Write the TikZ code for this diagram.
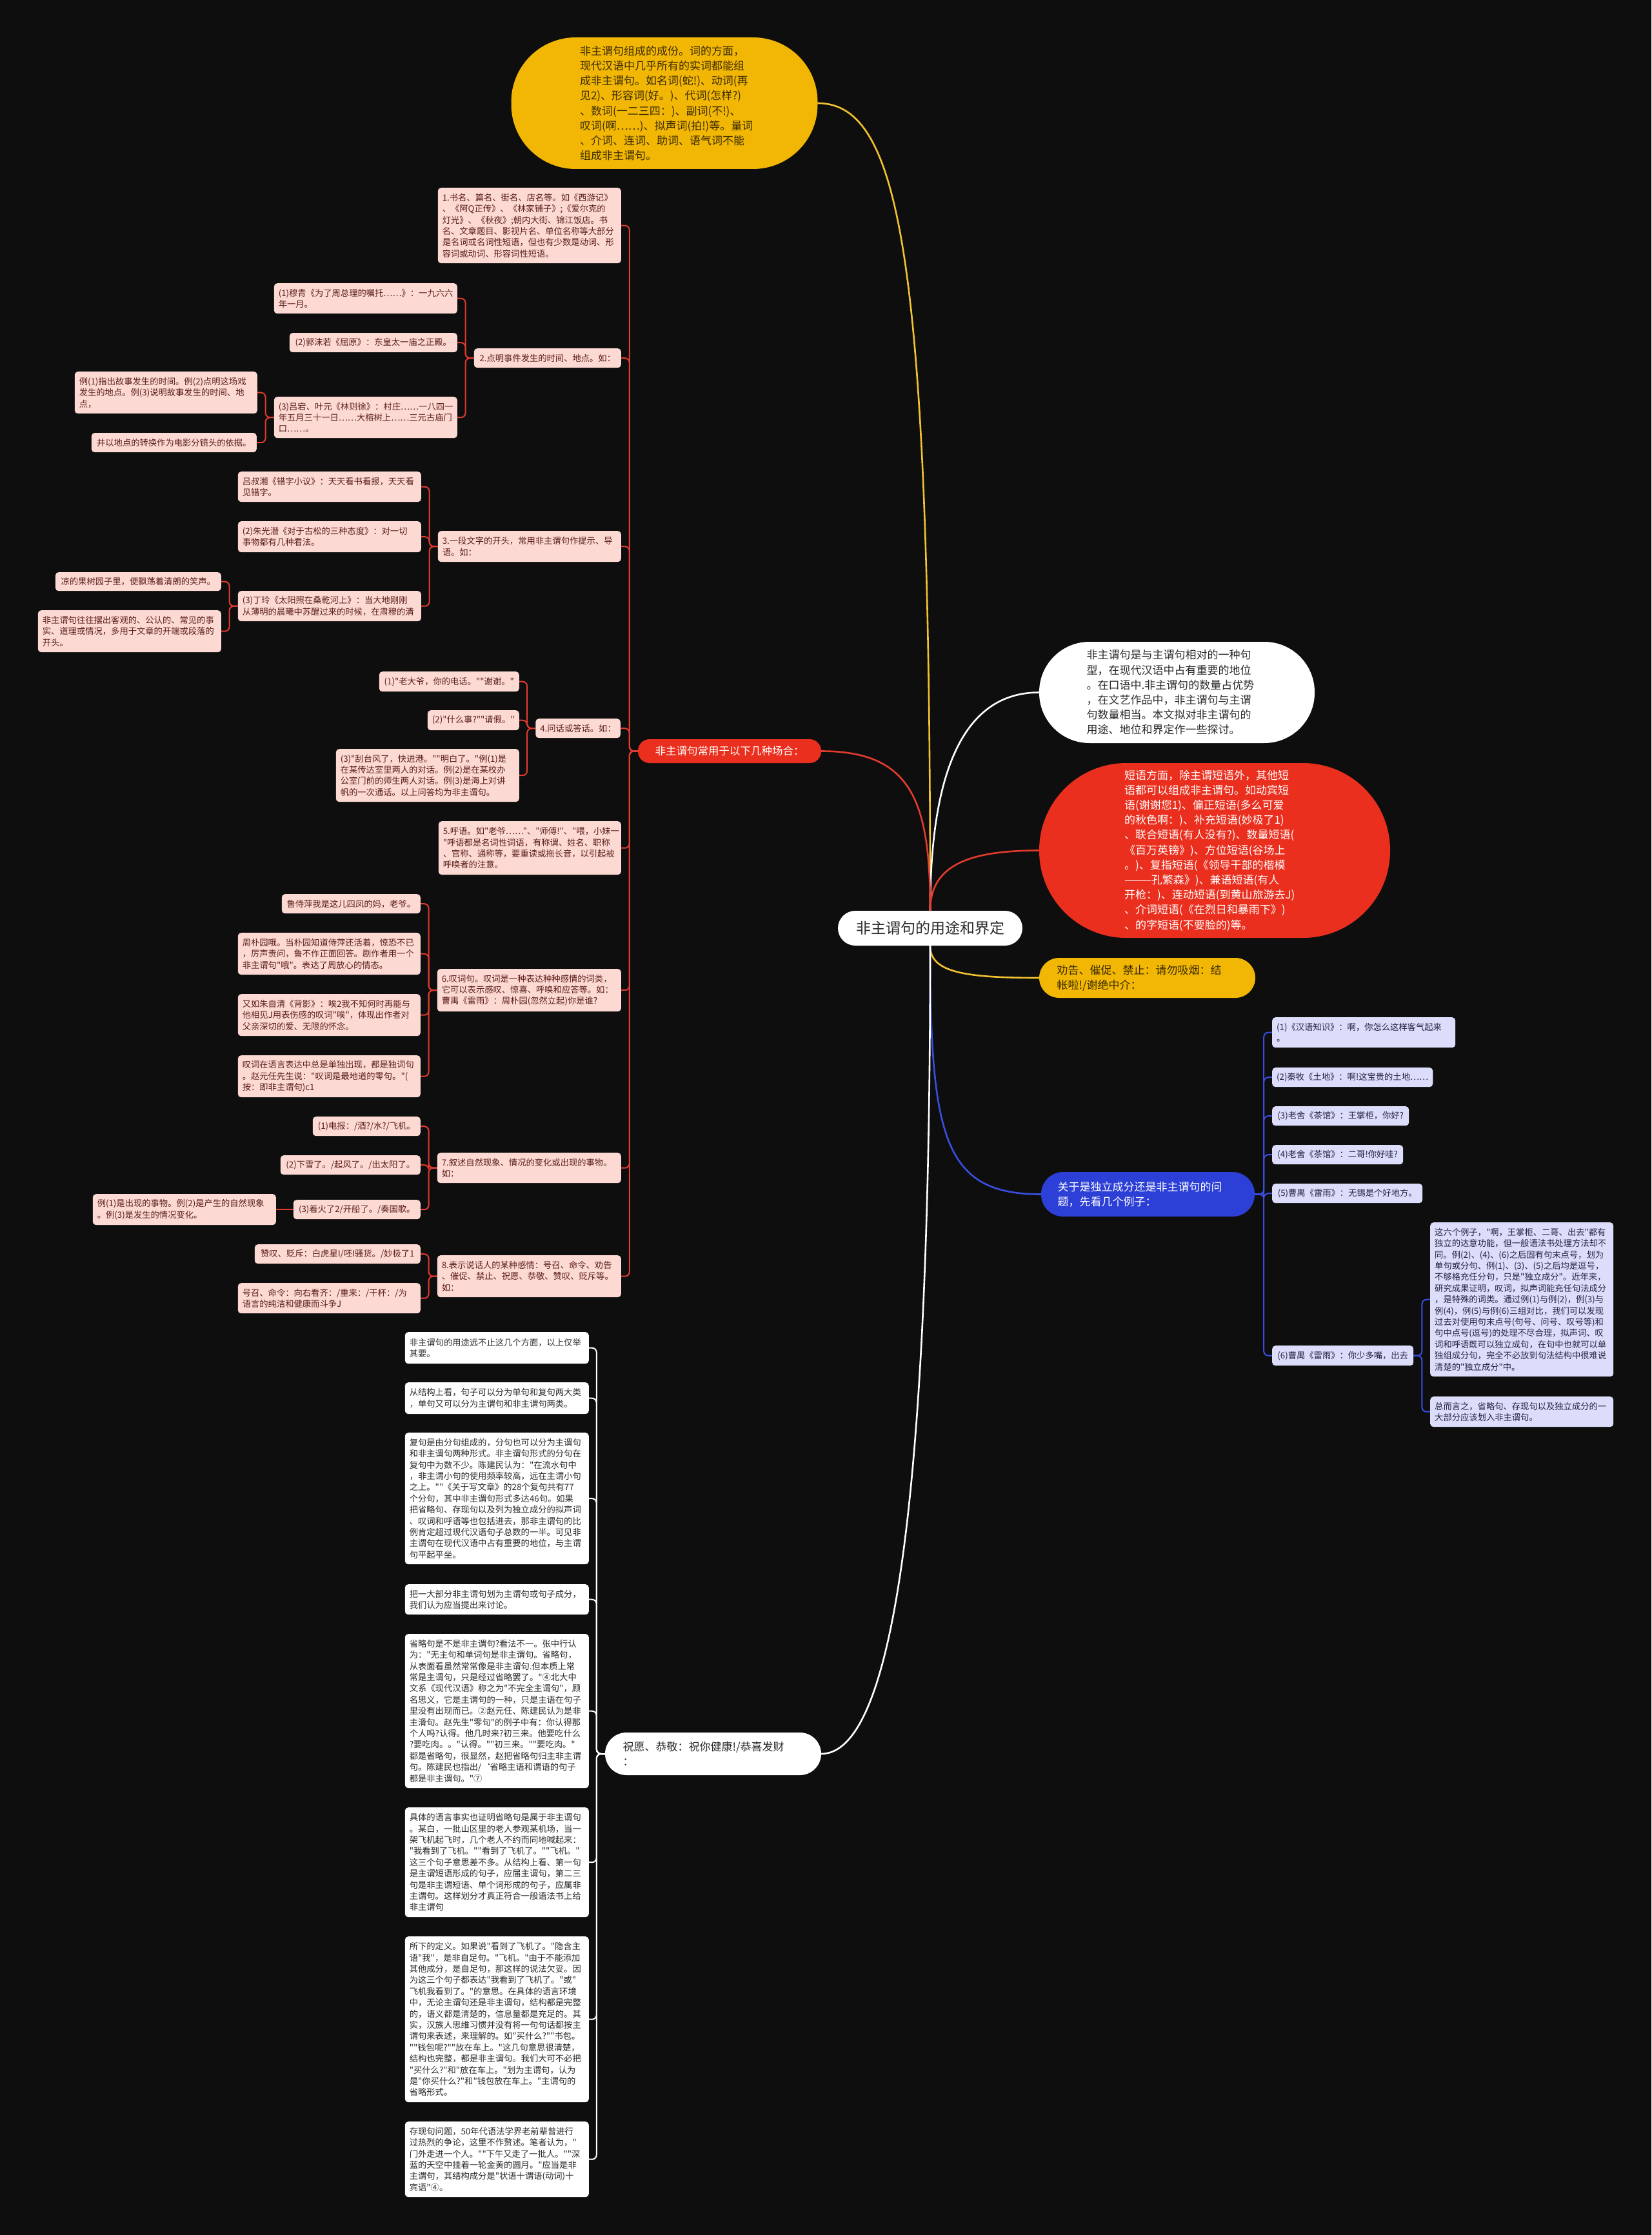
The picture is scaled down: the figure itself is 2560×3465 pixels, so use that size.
\documentclass[tikz,border=0pt]{standalone}
\usepackage{fontspec}
\setmainfont{Noto Sans CJK SC}[Ligatures=TeXOff]
\definecolor{bgc}{HTML}{0E0E0E}
\definecolor{pinkc}{HTML}{FDD9D4}
\definecolor{pinktxt}{HTML}{5A1E18}
\definecolor{redl}{HTML}{E33B2E}
\definecolor{redn}{HTML}{EA2F1E}
\definecolor{yelc}{HTML}{F2B705}
\definecolor{yell}{HTML}{F2C230}
\definecolor{yeltxt}{HTML}{3B2B00}
\definecolor{bluen}{HTML}{2C3FD6}
\definecolor{bluel}{HTML}{3A4FE0}
\definecolor{lavc}{HTML}{DCDDFA}
\definecolor{lavtxt}{HTML}{23233F}
\definecolor{wtxt}{HTML}{2A2A2A}
\newcommand\szS{\fontsize{13.3pt}{17.4pt}\selectfont}
\newcommand\szM{\fontsize{17pt}{23.2pt}\selectfont}
\newcommand\szR{\fontsize{16.5pt}{21pt}\selectfont}
\newcommand\szL{\fontsize{23pt}{28pt}\selectfont}
\pgfdeclarelayer{bg}
\pgfsetlayers{bg,main}
\tikzset{
  base/.style={rounded corners=5pt, inner xsep=7pt, inner ysep=5pt, align=left, font=\szS},
  pkL/.style={base, fill=pinkc, text=pinktxt, anchor=north east},
  wtL/.style={base, fill=white, text=wtxt, anchor=north east},
  lvR/.style={base, fill=lavc, text=lavtxt, anchor=north west},
  pill/.style={align=left, font=\szM, inner sep=0pt},
  rl/.style={draw=redl, line width=2pt, rounded corners=7pt},
  bl/.style={draw=bluel, line width=2pt, rounded corners=7pt},
  wl/.style={draw=white, line width=2pt, rounded corners=7pt},
  mainln/.style={line width=2.6pt},
}
\begin{document}
\begin{tikzpicture}[x=1pt,y=-1pt]
\begin{pgfonlayer}{bg}
\fill[bgc] (0,0) rectangle (2560,3465);
\end{pgfonlayer}
\useasboundingbox (0,0) rectangle (2560,3465);

% ---- centre and main branches
\node[fill=white, text=wtxt, font=\szL, rounded corners=27pt, minimum width=286pt, minimum height=54pt, inner sep=0pt] (c) at (1442,1439) {非主谓句的用途和界定};

\node[pill, fill=yelc, text=yeltxt, text width=262pt, minimum width=475pt, minimum height=204pt, rounded corners=100pt] (y1) at (1030,160) {非主谓句组成的成份。词的方面，\\现代汉语中几乎所有的实词都能组\\成非主谓句。如名词(蛇!)、动词(再\\见2)、形容词(好。)、代词(怎样?)\\、数词(一二三四：)、副词(不!)、\\叹词(啊……)、拟声词(拍!)等。量词\\、介词、连词、助词、语气词不能\\组成非主谓句。};

\node[pill, fill=white, text=wtxt, text width=280pt, minimum width=427pt, minimum height=157pt, rounded corners=78pt] (rw) at (1824.5,1073.5) {非主谓句是与主谓句相对的一种句\\型，在现代汉语中占有重要的地位\\。在口语中.非主谓句的数量占优势\\，在文艺作品中，非主谓句与主谓\\句数量相当。本文拟对非主谓句的\\用途、地位和界定作一些探讨。};

\node[pill, fill=redn, text=white, text width=280pt, minimum width=544pt, minimum height=271pt, rounded corners=135pt] (rr) at (1883,1318.5) {短语方面，除主谓短语外，其他短\\语都可以组成非主谓句。如动宾短\\语(谢谢您1)、偏正短语(多么可爱\\的秋色啊：)、补充短语(妙极了1)\\、联合短语(有人没有?)、数量短语(\\《百万英镑》)、方位短语(谷场上\\。)、复指短语(《领导干部的楷模\\———孔繁森》)、兼语短语(有人\\开枪：)、连动短语(到黄山旅游去J)\\、介词短语(《在烈日和暴雨下》)\\、的字短语(不要脸的)等。};

\node[pill, fill=yelc, text=yeltxt, text width=280pt, minimum width=335pt, minimum height=62pt, rounded corners=31pt] (ry) at (1778.5,1516) {劝告、催促、禁止：请勿吸烟：结\\帐啦!/谢绝中介：};

\node[pill, fill=bluen, text=white, text width=280pt, minimum width=331pt, minimum height=69pt, rounded corners=34pt] (rb) at (1779.5,1851.5) {关于是独立成分还是非主谓句的问\\题，先看几个例子：};

\node[pill, fill=white, text=wtxt, text width=280pt, minimum width=335pt, minimum height=66pt, rounded corners=33pt] (z) at (1105.5,2719) {祝愿、恭敬：祝你健康!/恭喜发财\\：};

\node[fill=redn, text=white, font=\szR, rounded corners=18pt, minimum width=284pt, minimum height=37pt, inner sep=0pt] (r1) at (1131,1164.5) {非主谓句常用于以下几种场合：};

% ---- left pink level 2
\node[pkL, text width=270pt, minimum height=117pt] (p1) at (963,291) {1.书名、篇名、街名、店名等。如《西游记》\\、《阿Q正传》、《林家铺子》;《爱尔克的\\灯光》、《秋夜》;朝内大街、锦江饭店。书\\名、文章题目、影视片名、单位名称等大部分\\是名词或名词性短语，但也有少数是动词、形\\容词或动词、形容词性短语。};
\node[pkL, minimum width=228pt, minimum height=30pt] (p2) at (963,540) {2.点明事件发生的时间、地点。如：};
\node[pkL, text width=270pt, minimum height=48pt] (p3) at (963,823) {3.一段文字的开头，常用非主谓句作提示、导\\语。如：};
\node[pkL, minimum width=131pt, minimum height=30pt] (p4) at (962,1114) {4.问话或答话。如：};
\node[pkL, text width=269pt, minimum height=83pt] (p5) at (963,1273) {5.呼语。如"老爷……"、"师傅!"、"喂，小妹一\\"呼语都是名词性词语，有称谓、姓名、职称\\、官称、通称等，要重读或拖长音，以引起被\\呼唤者的注意。};
\node[pkL, text width=271pt, minimum height=66pt] (p6) at (963,1502) {6.叹词句。叹词是一种表达种种感情的词类，\\它可以表示感叹、惊喜、呼唤和应答等。如：\\曹禺《雷雨》：周朴园(忽然立起)你是谁?};
\node[pkL, text width=271pt, minimum height=47pt] (p7) at (963,1787) {7.叙述自然现象、情况的变化或出现的事物。\\如：};
\node[pkL, text width=271pt, minimum height=65pt] (p8) at (963,1946) {8.表示说话人的某种感情：号召、命令、劝告\\、催促、禁止、祝愿、恭敬、赞叹、贬斥等。\\如：};

% ---- level 3 of 2
\node[pkL, text width=270pt, minimum height=47pt] (p2a) at (709,439) {(1)穆青《为了周总理的嘱托……》：一九六六\\年一月。};
\node[pkL, minimum width=260pt, minimum height=30pt] (p2b) at (709,516) {(2)郭沫若《屈原》：东皇太一庙之正殿。};
\node[pkL, text width=270pt, minimum height=64pt] (p2c) at (709,615) {(3)吕宕、叶元《林则徐》：村庄……一八四一\\年五月三十一日……大榕树上……三元古庙门\\口……。};
\node[pkL, text width=269pt, minimum height=65pt] (p2c1) at (399,576) {例(1)指出故事发生的时间。例(2)点明这场戏\\发生的地点。例(3)说明故事发生的时间、地\\点，};
\node[pkL, minimum width=256pt, minimum height=30pt] (p2c2) at (398,671) {并以地点的转换作为电影分镜头的依据。};

% ---- level 3 of 3
\node[pkL, text width=270pt, minimum height=47pt] (p3a) at (653,731) {吕叔湘《错字小议》：天天看书看报，天天看\\见错字。};
\node[pkL, text width=270pt, minimum height=48pt] (p3b) at (653,808) {(2)朱光潜《对于古松的三种态度》：对一切\\事物都有几种看法。};
\node[pkL, text width=270pt, minimum height=47pt] (p3c) at (653,916) {(3)丁玲《太阳照在桑乾河上》：当大地刚刚\\从薄明的晨曦中苏醒过来的时候，在肃穆的清};
\node[pkL, minimum width=257pt, minimum height=29pt] (p3c1) at (343,887) {凉的果树园子里，便飘荡着清朗的笑声。};
\node[pkL, text width=270pt, minimum height=65pt] (p3c2) at (343,946) {非主谓句往往摆出客观的、公认的、常见的事\\实、道理或情况，多用于文章的开端或段落的\\开头。};

% ---- level 3 of 4
\node[pkL, minimum width=217pt, minimum height=31pt] (p4a) at (805,1041) {(1)"老大爷，你的电话。""谢谢。"};
\node[pkL, minimum width=142pt, minimum height=31pt] (p4b) at (805,1101) {(2)"什么事?""请假。"};
\node[pkL, text width=270pt, minimum height=82pt] (p4c) at (805,1161) {(3)"刮台风了，快进港。""明白了。"例(1)是\\在某传达室里两人的对话。例(2)是在某校办\\公室门前的师生两人对话。例(3)是海上对讲\\帆的一次通话。以上问答均为非主谓句。};

% ---- level 3 of 6
\node[pkL, minimum width=215pt, minimum height=30pt] (p6a) at (652,1386) {鲁侍萍我是这儿四凤的妈，老爷。};
\node[pkL, text width=269pt, minimum height=65pt] (p6b) at (652,1446) {周朴园哦。当朴园知道侍萍还活着，惊恐不已\\，厉声责问，鲁不作正面回答。剧作者用一个\\非主谓句"哦"。表达了周放心的情态。};
\node[pkL, text width=269pt, minimum height=65pt] (p6c) at (652,1541) {又如朱自清《背影》：唉2我不知何时再能与\\他相见J用表伤感的叹词"唉"，体现出作者对\\父亲深切的爱、无限的怀念。};
\node[pkL, text width=269pt, minimum height=65pt] (p6d) at (652,1636) {叹词在语言表达中总是单独出现，都是独词句\\。赵元任先生说："叹词是最地道的零句。"(\\按：即非主谓句)c1};

% ---- level 3 of 7
\node[pkL, minimum width=167pt, minimum height=30pt] (p7a) at (652,1731) {(1)电报：/酒?/水?/飞机。};
\node[pkL, minimum width=217pt, minimum height=30pt] (p7b) at (652,1791) {(2)下雪了。/起风了。/出太阳了。};
\node[pkL, minimum width=197pt, minimum height=30pt] (p7c) at (652,1860) {(3)着火了2/开船了。/奏国歌。};
\node[pkL, text width=270pt, minimum height=48pt] (p7c1) at (428,1851) {例(1)是出现的事物。例(2)是产生的自然现象\\。例(3)是发生的情况变化。};

% ---- level 3 of 8
\node[pkL, minimum width=257pt, minimum height=30pt] (p8a) at (652,1929) {赞叹、贬斥：白虎星I/呸I骚货。/妙极了1};
\node[pkL, text width=269pt, minimum height=47pt] (p8b) at (652,1989) {号召、命令：向右看齐：/重来：/干杯：/为\\语言的纯洁和健康而斗争J};

% ---- lavender (blue branch)
\node[lvR, text width=270pt, minimum height=47pt] (b1) at (1972,1577) {(1)《汉语知识》：啊，你怎么这样客气起来\\。};
\node[lvR, minimum width=246pt, minimum height=30pt] (b2) at (1972,1655) {(2)秦牧《土地》：啊!这宝贵的土地……};
\node[lvR, minimum width=212pt, minimum height=30pt] (b3) at (1972,1715) {(3)老舍《茶馆》：王掌柜，你好?};
\node[lvR, minimum width=203pt, minimum height=30pt] (b4) at (1972,1775) {(4)老舍《茶馆》：二哥!你好哇?};
\node[lvR, minimum width=233pt, minimum height=30pt] (b5) at (1972,1835) {(5)曹禺《雷雨》：无锡是个好地方。};
\node[lvR, minimum width=219pt, minimum height=31pt] (b6) at (1972,2086) {(6)曹禺《雷雨》：你少多嘴，出去};
\node[lvR, text width=270pt, minimum height=239pt] (b6a) at (2217,1895) {这六个例子，"啊，王掌柜、二哥、出去"都有\\独立的达意功能，但一般语法书处理方法却不\\同。例(2)、(4)、(6)之后固有句末点号，划为\\单句或分句、例(1)、(3)、(5)之后均是逗号，\\不够格充任分句，只是"独立成分"。近年来，\\研究成果证明，叹词，拟声词能充任句法成分\\，是特殊的词类。通过例(1)与例(2)，例(3)与\\例(4)，例(5)与例(6)三组对比，我们可以发现\\过去对使用句末点号(句号、问号、叹号等)和\\句中点号(逗号)的处理不尽合理，拟声词、叹\\词和呼语既可以独立成句，在句中也就可以单\\独组成分句，完全不必放到句法结构中很难说\\清楚的"独立成分"中。};
\node[lvR, text width=270pt, minimum height=47pt] (b6b) at (2217,2165) {总而言之，省略句、存现句以及独立成分的一\\大部分应该划入非主谓句。};

% ---- white (bottom branch)
\node[wtL, text width=271pt, minimum height=49pt] (w1) at (913,2065) {非主谓句的用途远不止这几个方面，以上仅举\\其要。};
\node[wtL, text width=271pt, minimum height=49pt] (w2) at (913,2143) {从结构上看，句子可以分为单句和复句两大类\\，单句又可以分为主谓句和非主谓句两类。};
\node[wtL, text width=271pt, minimum height=204pt] (w3) at (913,2221) {复句是由分句组成的，分句也可以分为主谓句\\和非主谓句两种形式。非主谓句形式的分句在\\复句中为数不少。陈建民认为："在流水句中\\，非主谓小句的使用频率较高，远在主谓小句\\之上。""《关于写文章》的28个复句共有77\\个分句，其中非主谓句形式多达46句。如果\\把省略句、存现句以及列为独立成分的拟声词\\、叹词和呼语等也包括进去，那非主谓句的比\\例肯定超过现代汉语句子总数的一半。可见非\\主谓句在现代汉语中占有重要的地位，与主谓\\句平起平坐。};
\node[wtL, text width=271pt, minimum height=47pt] (w4) at (913,2456) {把一大部分非主谓句划为主谓句或句子成分，\\我们认为应当提出来讨论。};
\node[wtL, text width=271pt, minimum height=239pt] (w5) at (913,2533) {省略句是不是非主谓句?看法不一。张中行认\\为："无主句和单词句是非主谓句。省略句，\\从表面看虽然常常像是非主谓句.但本质上常\\常是主谓句，只是经过省略罢了。"④北大中\\文系《现代汉语》称之为"不完全主谓句"，顾\\名思义，它是主谓句的一种，只是主语在句子\\里没有出现而已。②赵元任、陈建民认为是非\\主滑句。赵先生"零句"的例子中有：你认得那\\个人吗?认得。他几时来?初三来。他要吃什么\\?要吃肉。。"认得。""初三来。""要吃肉。"\\都是省略句，很显然，赵把省略句归主非主谓\\句。陈建民也指出/‘省略主语和谓语的句子\\都是非主谓句。"⑦};
\node[wtL, text width=271pt, minimum height=170pt] (w6) at (913,2802) {具体的语言事实也证明省略句是属于非主谓句\\。某白，一批山区里的老人参观某机场，当一\\架飞机起飞时，几个老人不约而同地喊起来：\\"我看到了飞机。""看到了飞机了。""飞机。"\\这三个句子意思差不多。从结构上看、第一句\\是主谓短语形成的句子，应届主谓句，第二三\\句是非主谓短语、单个词形成的句子，应属非\\主谓句。这样划分才真正符合一般语法书上给\\非主谓句};
\node[wtL, text width=271pt, minimum height=257pt] (w7) at (913,3002) {所下的定义。如果说"看到了飞机了。"隐含主\\语"我"，是非自足句。"飞机。"由于不能添加\\其他成分，是自足句，那这样的说法欠妥。因\\为这三个句子都表达"我看到了飞机了。"或"\\飞机我看到了。"的意思。在具体的语言环境\\中，无论主谓句还是非主谓句，结构都是完整\\的，语义都是清楚的，信息量都是充足的。其\\实，汉族人思维习惯并没有将一句句话都按主\\谓句来表述，来理解的。如"买什么?""书包。\\""钱包呢?""放在车上。"这几句意思很清楚，\\结构也完整，都是非主谓句。我们大可不必把\\"买什么?"和"放在车上。"划为主谓句，认为\\是"你买什么?"和"钱包放在车上。"主谓句的\\省略形式。};
\node[wtL, text width=271pt, minimum height=117pt] (w8) at (913,3289) {存现句问题，50年代语法学界老前辈曾进行\\过热烈的争论，这里不作赘述。笔者认为，"\\门外走进一个人。""下午又走了一批人。""深\\蓝的天空中挂着一轮金黄的圆月。"应当是非\\主谓句，其结构成分是"状语十谓语(动词)十\\宾语"④。};

% ---- connectors
\begin{pgfonlayer}{bg}
\draw[yell, mainln] (c.north) .. controls +(0,-1000) and +(130,0) .. (y1.east);
\draw[white, mainln] (c.north) .. controls +(0,-230) and +(-110,0) .. (rw.west);
\draw[redl, mainln] (c.north) .. controls +(0,-70) and +(-110,0) .. (rr.west);
\draw[redl, mainln] (c.north) .. controls +(0,-170) and +(140,0) .. (r1.east);
\draw[yell, mainln] (c.south) .. controls +(0,40) and +(-120,0) .. (ry.west);
\draw[bluel, mainln] (c.south) .. controls +(0,300) and +(-150,0) .. (rb.west);
\draw[white, mainln] (c.south) .. controls +(0,734) and +(127,0) .. (z.east);

\foreach \n in {p1,p2,p3,p4,p5,p6,p7,p8} \draw[rl] (r1.west) -- ++(-13,0) |- (\n.east);
\foreach \n in {p2a,p2b,p2c} \draw[rl] (p2.west) -- ++(-13,0) |- (\n.east);
\foreach \n in {p2c1,p2c2} \draw[rl] (p2c.west) -- ++(-13,0) |- (\n.east);
\foreach \n in {p3a,p3b,p3c} \draw[rl] (p3.west) -- ++(-13,0) |- (\n.east);
\foreach \n in {p3c1,p3c2} \draw[rl] (p3c.west) -- ++(-13,0) |- (\n.east);
\foreach \n in {p4a,p4b,p4c} \draw[rl] (p4.west) -- ++(-13,0) |- (\n.east);
\foreach \n in {p6a,p6b,p6c,p6d} \draw[rl] (p6.west) -- ++(-13,0) |- (\n.east);
\foreach \n in {p7a,p7b,p7c} \draw[rl] (p7.west) -- ++(-13,0) |- (\n.east);
\draw[rl] (p7c.west) -- (p7c1.east);
\foreach \n in {p8a,p8b} \draw[rl] (p8.west) -- ++(-13,0) |- (\n.east);
\foreach \n in {b1,b2,b3,b4,b5,b6} \draw[bl] (rb.east) -- ++(14,0) |- (\n.west);
\foreach \n in {b6a,b6b} \draw[bl] (b6.east) -- ++(13,0) |- (\n.west);
\foreach \n in {w1,w2,w3,w4,w5,w6,w7,w8} \draw[wl] (z.west) -- ++(-13,0) |- (\n.east);
\end{pgfonlayer}
\end{tikzpicture}
\end{document}
